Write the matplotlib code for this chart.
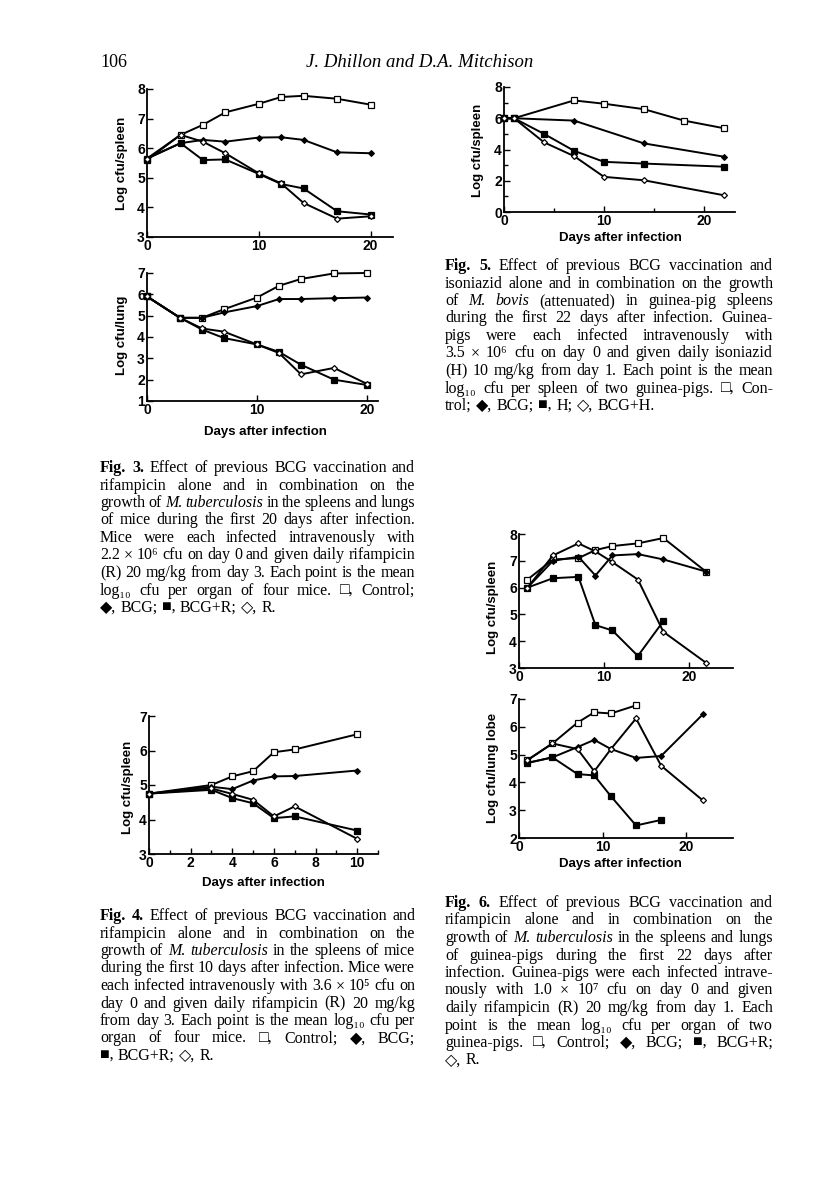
import matplotlib
matplotlib.use("Agg")
import matplotlib.pyplot as plt
from matplotlib.ticker import MultipleLocator

# Fig. 3 (mice, spleen and lung)
f3_days = [0, 3, 5, 7, 10, 12, 14, 17, 20]
f3s_control = [5.6, 6.45, 6.79, 7.21, 7.5, 7.73, 7.77, 7.67, 7.47]
f3s_bcg = [5.65, 6.17, 6.28, 6.22, 6.36, 6.37, 6.28, 5.86, 5.83]
f3s_bcg_r = [5.65, 6.17, 5.6, 5.62, 5.13, 4.79, 4.64, 3.87, 3.76]
f3s_r = [5.65, 6.45, 6.22, 5.83, 5.15, 4.81, 4.15, 3.62, 3.7]
f3l_control = [5.9, 4.9, 4.9, 5.3, 5.85, 6.4, 6.72, 6.98, 7.0]
f3l_bcg = [5.9, 4.9, 4.9, 5.15, 5.45, 5.78, 5.78, 5.82, 5.85]
f3l_bcg_r = [5.9, 4.9, 4.35, 3.95, 3.65, 3.3, 2.7, 2.0, 1.75]
f3l_r = [5.9, 4.9, 4.4, 4.25, 3.65, 3.25, 2.25, 2.55, 1.8]

# Fig. 4 (mice, spleen, first 10 days)
f4_days = [0, 3, 4, 5, 6, 7, 10]
f4_control = [4.75, 5.0, 5.25, 5.4, 5.95, 6.03, 6.47]
f4_bcg = [4.75, 4.95, 4.88, 5.13, 5.25, 5.26, 5.42]
f4_bcg_r = [4.75, 4.86, 4.62, 4.47, 4.04, 4.09, 3.68]
f4_r = [4.75, 4.9, 4.74, 4.57, 4.09, 4.38, 3.44]

# Fig. 5 (guinea-pig spleen, isoniazid)
f5_days_control = [0, 1, 7, 10, 14, 18, 22]
f5_control = [6.0, 6.0, 7.14, 6.93, 6.58, 5.85, 5.36]
f5_days_bcg = [0, 1, 7, 14, 22]
f5_bcg = [6.0, 6.0, 5.85, 4.39, 3.54]
f5_days_h = [0, 1, 4, 7, 10, 14, 22]
f5_h = [6.0, 6.0, 5.0, 3.92, 3.21, 3.1, 2.9]
f5_bcg_h = [6.0, 6.0, 4.46, 3.58, 2.25, 2.03, 1.07]

# Fig. 6 (guinea-pig spleen and lung lobe)
f6_days = [1, 4, 7, 9, 11, 14, 17, 22]
f6s_control = [6.3, 7.05, 7.1, 7.4, 7.55, 7.65, 7.85, 6.6]
f6s_bcg = [6.0, 7.0, 7.15, 6.45, 7.2, 7.25, 7.05, 6.6]
f6s_r = [6.0, 7.2, 7.65, 7.35, 6.95, 6.3, 4.35, 3.2]
f6s_bcg_r = [6.0, 6.35, 6.4, 4.6, 4.4, 3.45, 4.75]
f6l_control = [4.8, 5.4, 6.15, 6.52, 6.48, 6.77]
f6l_bcg = [4.7, 4.9, 5.27, 5.53, 5.2, 4.88, 4.95, 6.45]
f6l_r = [4.8, 5.4, 5.2, 4.4, 5.2, 6.3, 4.6, 3.35]
f6l_bcg_r = [4.7, 4.9, 4.3, 4.25, 3.5, 2.45, 2.65]

W, H = 816, 1195
SERIF = ['Liberation Serif', 'DejaVu Serif', 'DejaVu Sans']
plt.rcParams['font.family'] = ['Liberation Sans', 'DejaVu Sans']
plt.rcParams['font.weight'] = 'bold'

fig = plt.figure(figsize=(W / 100, H / 100), dpi=100)

OPEN_SQ = dict(marker='s', mfc='white', mec='black', ms=3.8, mew=0.9)
FILL_SQ = dict(marker='s', mfc='black', mec='black', ms=3.8, mew=0.9)
FILL_D = dict(marker='D', mfc='black', mec='black', ms=3.0, mew=0.8)
OPEN_D = dict(marker='D', mfc='white', mec='black', ms=3.0, mew=0.9)


def px_axes(x0, y0, x1, y1):
    return fig.add_axes([x0 / W, 1 - y1 / H, (x1 - x0) / W, (y1 - y0) / H])


def ptext(x, y, s, **kw):
    return fig.text(x / W, 1 - y / H, s, **kw)


def setup(ax, xmax, ymin, ymax, xmaj, ymaj, xmin=None, ymin_step=None):
    ax.set_xlim(0, xmax)
    ax.set_ylim(ymin, ymax)
    ax.patch.set_alpha(0)
    for s in ['top', 'right']:
        ax.spines[s].set_visible(False)
    for s in ['left', 'bottom']:
        ax.spines[s].set_linewidth(1.3)
    ax.xaxis.set_major_locator(MultipleLocator(xmaj))
    ax.yaxis.set_major_locator(MultipleLocator(ymaj))
    if xmin:
        ax.xaxis.set_minor_locator(MultipleLocator(xmin))
    if ymin_step:
        ax.yaxis.set_minor_locator(MultipleLocator(ymin_step))
    ax.tick_params(which='both', direction='in', width=1.0, labelsize=10, pad=1.5)
    ax.tick_params(which='major', length=4)
    ax.tick_params(which='minor', length=3)


def lines(ax, series):
    for x, y, st in series:
        ax.plot(x, y, color='black', lw=1.4, clip_on=False, zorder=3, **st)


# ---- Fig. 3 ----
ax = px_axes(147, 89, 393, 237)
setup(ax, 22, 3, 8, 10, 1)
lines(ax, [(f3_days, f3s_control, OPEN_SQ), (f3_days, f3s_bcg, FILL_D),
           (f3_days, f3s_bcg_r, FILL_SQ), (f3_days, f3s_r, OPEN_D)])
ptext(122, 163, 'Log cfu/spleen', rotation=90, ha='center', va='center', fontsize=9.5)

ax = px_axes(147, 273, 378, 401)
setup(ax, 21, 1, 7, 10, 1)
lines(ax, [(f3_days, f3l_control, OPEN_SQ), (f3_days, f3l_bcg, FILL_D),
           (f3_days, f3l_bcg_r, FILL_SQ), (f3_days, f3l_r, OPEN_D)])
ptext(122, 335, 'Log cfu/lung', rotation=90, ha='center', va='center', fontsize=9.5)
ptext(265, 432, 'Days after infection', ha='center', va='center', fontsize=9.5)

# ---- Fig. 5 ----
ax = px_axes(504, 87, 735, 212)
setup(ax, 23.1, 0, 8, 10, 2, xmin=5, ymin_step=1)
lines(ax, [(f5_days_control, f5_control, OPEN_SQ), (f5_days_bcg, f5_bcg, FILL_D),
           (f5_days_h, f5_h, FILL_SQ), (f5_days_h, f5_bcg_h, OPEN_D)])
ptext(478, 150, 'Log cfu/spleen', rotation=90, ha='center', va='center', fontsize=9.5)
ptext(620, 238, 'Days after infection', ha='center', va='center', fontsize=9.5)

# ---- Fig. 4 ----
ax = px_axes(149, 716, 378, 854)
setup(ax, 11, 3, 7, 2, 1, xmin=1)
lines(ax, [(f4_days, f4_control, OPEN_SQ), (f4_days, f4_bcg, FILL_D),
           (f4_days, f4_bcg_r, FILL_SQ), (f4_days, f4_r, OPEN_D)])
ptext(128, 787, 'Log cfu/spleen', rotation=90, ha='center', va='center', fontsize=9.5)
ptext(263, 883, 'Days after infection', ha='center', va='center', fontsize=9.5)

# ---- Fig. 6 ----
ax = px_axes(519, 534, 733, 668)
setup(ax, 25.2, 3, 8, 10, 1)
lines(ax, [(f6_days, f6s_control, OPEN_SQ), (f6_days, f6s_bcg, FILL_D),
           (f6_days[:7], f6s_bcg_r, FILL_SQ), (f6_days, f6s_r, OPEN_D)])
ptext(493, 607, 'Log cfu/spleen', rotation=90, ha='center', va='center', fontsize=9.5)

ax = px_axes(519, 699, 733, 838)
setup(ax, 25.6, 2, 7, 10, 1)
lines(ax, [(f6_days[:6], f6l_control, OPEN_SQ), (f6_days, f6l_bcg, FILL_D),
           (f6_days[:7], f6l_bcg_r, FILL_SQ), (f6_days, f6l_r, OPEN_D)])
ptext(493, 768, 'Log cfu/lung lobe', rotation=90, ha='center', va='center', fontsize=9.5)
ptext(620, 864, 'Days after infection', ha='center', va='center', fontsize=9.5)

# ---- running head ----
ptext(100, 67, '106', family=SERIF, weight='normal', fontsize=13, va='baseline')
ptext(420, 67, 'J. Dhillon and D.A. Mitchison', family=SERIF, weight='normal',
      style='italic', fontsize=13.5, ha='center', va='baseline')

# ---- captions (justified) ----
renderer = fig.canvas.get_renderer()


def caption(text_lines, x0, x1, base, size=11.5, lead=17.5):
    for i, line in enumerate(text_lines):
        y = base + i * lead
        objs = []
        for w in line.split(' '):
            kw = dict(family=SERIF, fontsize=size, weight='normal', style='normal', va='baseline')
            if w.startswith('#'):
                w = w[1:]
                kw['weight'] = 'bold'
            elif w.startswith('_'):
                w = w[1:]
                kw['style'] = 'italic'
            objs.append(ptext(0, y, w, **kw))
        widths = [t.get_window_extent(renderer).width for t in objs]
        if i == len(text_lines) - 1 or len(objs) == 1:
            gap = size * 100 / 72 * 0.27
        else:
            gap = (x1 - x0 - sum(widths)) / (len(objs) - 1)
        x = x0
        for t, wd in zip(objs, widths):
            t.set_x(x / W)
            x += wd + gap


caption([
    '#Fig. #3. Effect of previous BCG vaccination and',
    'rifampicin alone and in combination on the',
    'growth of _M. _tuberculosis in the spleens and lungs',
    'of mice during the first 20 days after infection.',
    'Mice were each infected intravenously with',
    '2.2 × 10⁶ cfu on day 0 and given daily rifampicin',
    '(R) 20 mg/kg from day 3. Each point is the mean',
    'log₁₀ cfu per organ of four mice. □, Control;',
    '◆, BCG; ■, BCG+R; ◇, R.',
], 100, 415, 472)

caption([
    '#Fig. #5. Effect of previous BCG vaccination and',
    'isoniazid alone and in combination on the growth',
    'of _M. _bovis (attenuated) in guinea-pig spleens',
    'during the first 22 days after infection. Guinea-',
    'pigs were each infected intravenously with',
    '3.5 × 10⁶ cfu on day 0 and given daily isoniazid',
    '(H) 10 mg/kg from day 1. Each point is the mean',
    'log₁₀ cfu per spleen of two guinea-pigs. □, Con-',
    'trol; ◆, BCG; ■, H; ◇, BCG+H.',
], 445, 773, 270)

caption([
    '#Fig. #4. Effect of previous BCG vaccination and',
    'rifampicin alone and in combination on the',
    'growth of _M. _tuberculosis in the spleens of mice',
    'during the first 10 days after infection. Mice were',
    'each infected intravenously with 3.6 × 10⁵ cfu on',
    'day 0 and given daily rifampicin (R) 20 mg/kg',
    'from day 3. Each point is the mean log₁₀ cfu per',
    'organ of four mice. □, Control; ◆, BCG;',
    '■, BCG+R; ◇, R.',
], 100, 415, 920)

caption([
    '#Fig. #6. Effect of previous BCG vaccination and',
    'rifampicin alone and in combination on the',
    'growth of _M. _tuberculosis in the spleens and lungs',
    'of guinea-pigs during the first 22 days after',
    'infection. Guinea-pigs were each infected intrave-',
    'nously with 1.0 × 10⁷ cfu on day 0 and given',
    'daily rifampicin (R) 20 mg/kg from day 1. Each',
    'point is the mean log₁₀ cfu per organ of two',
    'guinea-pigs. □, Control; ◆, BCG; ■, BCG+R;',
    '◇, R.',
], 445, 773, 907)

fig.savefig('out.png', dpi=100)
